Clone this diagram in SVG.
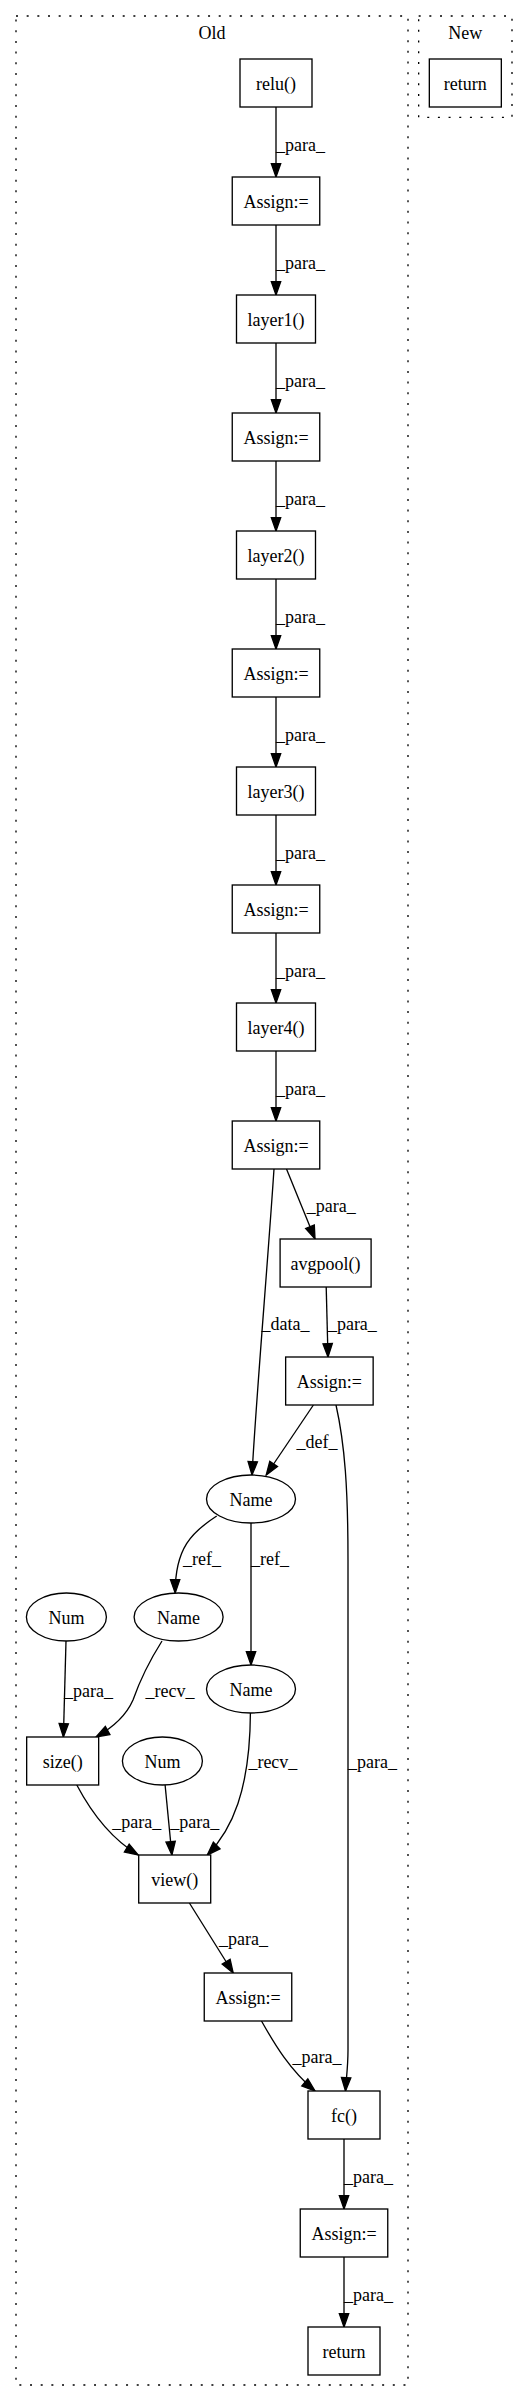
<svg xmlns="http://www.w3.org/2000/svg" width="528" height="2402" viewBox="0 0 528 2402">
<style>
.cl{fill:none;stroke:#000;stroke-width:1.33;stroke-dasharray:2,8.67}
.nd{fill:#fff;stroke:#000;stroke-width:1.33}
.t{font-family:"Liberation Serif","Times New Roman",serif;font-size:18px;fill:#000;text-anchor:middle}
.l{font-family:"Liberation Serif","Times New Roman",serif;font-size:18px;fill:#000;text-anchor:start}
.e{fill:none;stroke:#000;stroke-width:1.33}
</style>
<defs>
<marker id="ah" markerUnits="userSpaceOnUse" markerWidth="16" markerHeight="12" refX="13.33" refY="4.67" orient="auto" overflow="visible">
<path d="M0,0 L13.33,4.67 L0,9.33 z" fill="#000" stroke="#000" stroke-width="1.33"/>
</marker>
</defs>
<rect width="528" height="2402" fill="#fff"/>
<g id="cluster_old">
<rect class="cl" x="16" y="16" width="392" height="2369"/>
<text class="t" x="212" y="38.5">Old</text>
</g>
<g id="cluster_new">
<rect class="cl" x="418.67" y="16" width="93.33" height="101.33"/>
<text class="t" x="465.3" y="38.5">New</text>
</g>
<g id="edges">
<path class="e" marker-end="url(#ah)" d="M276,107 L276,177"/>
<text class="l" x="276" y="151.3">_para_</text>
<path class="e" marker-end="url(#ah)" d="M276,225 L276,295"/>
<text class="l" x="276" y="269.3">_para_</text>
<path class="e" marker-end="url(#ah)" d="M276,343 L276,413"/>
<text class="l" x="276" y="387.3">_para_</text>
<path class="e" marker-end="url(#ah)" d="M276,461 L276,531"/>
<text class="l" x="276" y="505.3">_para_</text>
<path class="e" marker-end="url(#ah)" d="M276,579 L276,649"/>
<text class="l" x="276" y="623.3">_para_</text>
<path class="e" marker-end="url(#ah)" d="M276,697 L276,767"/>
<text class="l" x="276" y="741.3">_para_</text>
<path class="e" marker-end="url(#ah)" d="M276,815 L276,885"/>
<text class="l" x="276" y="859.3">_para_</text>
<path class="e" marker-end="url(#ah)" d="M276,933 L276,1003"/>
<text class="l" x="276" y="977.3">_para_</text>
<path class="e" marker-end="url(#ah)" d="M276,1051 L276,1121"/>
<text class="l" x="276" y="1095.3">_para_</text>
<path class="e" marker-end="url(#ah)" d="M286.5,1169 L315,1239"/>
<text class="l" x="306.7" y="1212">_para_</text>
<path class="e" marker-end="url(#ah)" d="M274,1169 C268,1260 256,1400 252,1475"/>
<text class="l" x="261.5" y="1330">_data_</text>
<path class="e" marker-end="url(#ah)" d="M326.2,1287 L328,1357"/>
<text class="l" x="327.9" y="1330">_para_</text>
<path class="e" marker-end="url(#ah)" d="M313.4,1405 L266.2,1475"/>
<text class="l" x="296.5" y="1448">_def_</text>
<path class="e" marker-end="url(#ah)" d="M336,1405 C345,1445 348,1490 348,1560 L348,2050 C348,2068 346,2080 345.5,2091"/>
<text class="l" x="348" y="1768">_para_</text>
<path class="e" marker-end="url(#ah)" d="M216.7,1516 C192,1532 175,1548 175.2,1593"/>
<text class="l" x="183" y="1565">_ref_</text>
<path class="e" marker-end="url(#ah)" d="M251,1523 L251,1665"/>
<text class="l" x="251" y="1565">_ref_</text>
<path class="e" marker-end="url(#ah)" d="M66,1641 L63.4,1737"/>
<text class="l" x="64" y="1697">_para_</text>
<path class="e" marker-end="url(#ah)" d="M162,1641 C150,1660 140,1680 133,1700 C126,1716 112,1728 96,1737"/>
<text class="l" x="145.6" y="1697">_recv_</text>
<path class="e" marker-end="url(#ah)" d="M250.4,1713 C250,1790 232,1830 207.3,1855"/>
<text class="l" x="248.4" y="1768">_recv_</text>
<path class="e" marker-end="url(#ah)" d="M76.8,1785 C90,1810 110,1838 138.2,1855"/>
<text class="l" x="112.2" y="1828">_para_</text>
<path class="e" marker-end="url(#ah)" d="M165.1,1785 L171.9,1855"/>
<text class="l" x="170.2" y="1828">_para_</text>
<path class="e" marker-end="url(#ah)" d="M189.4,1903 L233.2,1973"/>
<text class="l" x="219" y="1945">_para_</text>
<path class="e" marker-end="url(#ah)" d="M261.5,2021 C275,2045 290,2070 315,2091"/>
<text class="l" x="292.5" y="2063">_para_</text>
<path class="e" marker-end="url(#ah)" d="M344,2139 L344,2209"/>
<text class="l" x="344" y="2183.3">_para_</text>
<path class="e" marker-end="url(#ah)" d="M344,2257 L344,2327"/>
<text class="l" x="344" y="2301.3">_para_</text>
</g>
<g id="n_relu"><rect class="nd" x="240" y="59" width="72" height="48"/><text class="t" x="276" y="89.5">relu()</text></g>
<g id="n_return_new"><rect class="nd" x="429.33" y="59" width="72" height="48"/><text class="t" x="465.33" y="89.5">return</text></g>
<g id="n_assign1"><rect class="nd" x="232.25" y="177" width="87.5" height="48"/><text class="t" x="276" y="207.5">Assign:=</text></g>
<g id="n_layer1"><rect class="nd" x="236.5" y="295" width="79" height="48"/><text class="t" x="276" y="325.5">layer1()</text></g>
<g id="n_assign2"><rect class="nd" x="232.25" y="413" width="87.5" height="48"/><text class="t" x="276" y="443.5">Assign:=</text></g>
<g id="n_layer2"><rect class="nd" x="236.5" y="531" width="79" height="48"/><text class="t" x="276" y="561.5">layer2()</text></g>
<g id="n_assign3"><rect class="nd" x="232.25" y="649" width="87.5" height="48"/><text class="t" x="276" y="679.5">Assign:=</text></g>
<g id="n_layer3"><rect class="nd" x="236.5" y="767" width="79" height="48"/><text class="t" x="276" y="797.5">layer3()</text></g>
<g id="n_assign4"><rect class="nd" x="232.25" y="885" width="87.5" height="48"/><text class="t" x="276" y="915.5">Assign:=</text></g>
<g id="n_layer4"><rect class="nd" x="236.5" y="1003" width="79" height="48"/><text class="t" x="276" y="1033.5">layer4()</text></g>
<g id="n_assign5"><rect class="nd" x="232.25" y="1121" width="87.5" height="48"/><text class="t" x="276" y="1151.5">Assign:=</text></g>
<g id="n_avgpool"><rect class="nd" x="280.1" y="1239" width="91" height="48"/><text class="t" x="325.6" y="1269.5">avgpool()</text></g>
<g id="n_assign6"><rect class="nd" x="285.65" y="1357" width="87.5" height="48"/><text class="t" x="329.4" y="1387.5">Assign:=</text></g>
<g id="n_name1"><ellipse class="nd" cx="251" cy="1499" rx="44.5" ry="24"/><text class="t" x="251" y="1505.5">Name</text></g>
<g id="n_num1"><ellipse class="nd" cx="66.4" cy="1617" rx="40" ry="24"/><text class="t" x="66.4" y="1623.5">Num</text></g>
<g id="n_name2"><ellipse class="nd" cx="178.6" cy="1617" rx="44.5" ry="24"/><text class="t" x="178.6" y="1623.5">Name</text></g>
<g id="n_name3"><ellipse class="nd" cx="251" cy="1689" rx="44.5" ry="24"/><text class="t" x="251" y="1695.5">Name</text></g>
<g id="n_size"><rect class="nd" x="26.67" y="1737" width="72" height="48"/><text class="t" x="62.67" y="1767.5">size()</text></g>
<g id="n_num2"><ellipse class="nd" cx="162.4" cy="1761" rx="40" ry="24"/><text class="t" x="162.4" y="1767.5">Num</text></g>
<g id="n_view"><rect class="nd" x="138.7" y="1855" width="72" height="48"/><text class="t" x="174.7" y="1885.5">view()</text></g>
<g id="n_assign7"><rect class="nd" x="204.25" y="1973" width="87.5" height="48"/><text class="t" x="248" y="2003.5">Assign:=</text></g>
<g id="n_fc"><rect class="nd" x="308" y="2091" width="72" height="48"/><text class="t" x="344" y="2121.5">fc()</text></g>
<g id="n_assign8"><rect class="nd" x="300.25" y="2209" width="87.5" height="48"/><text class="t" x="344" y="2239.5">Assign:=</text></g>
<g id="n_return"><rect class="nd" x="308" y="2327" width="72" height="48"/><text class="t" x="344" y="2357.5">return</text></g>
</svg>
